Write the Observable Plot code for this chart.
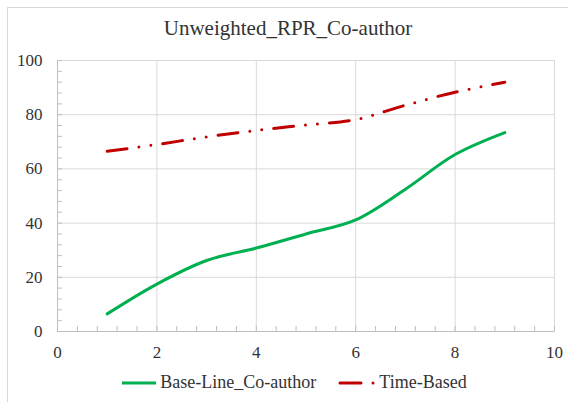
<!DOCTYPE html>
<html>
<head>
<meta charset="utf-8">
<script src="https://cdn.jsdelivr.net/npm/d3@7"></script>
<script src="https://cdn.jsdelivr.net/npm/@observablehq/plot@0.6"></script>
<style>
  html, body { margin: 0; padding: 0; background: #fff; }
  #wrap { position: relative; width: 568px; height: 402px; overflow: hidden; font-family: "Liberation Serif", "Times New Roman", serif; color: #333; }
  #border { position: absolute; left: 7px; top: 7px; width: 700px; height: 600px; border-left: 1px solid #d9d9d9; border-top: 1px solid #d9d9d9; }
  #title { position: absolute; left: 4px; width: 568px; top: 16px; text-align: center; font-size: 21px; }
  #chart { position: absolute; left: 0; top: 0; }
  #legend { position: absolute; top: 372px; left: 10px; width: 568px; display: flex; justify-content: center; align-items: center; font-size: 18px; }
  .item { display: flex; align-items: center; margin: 0 11px; }
  .item svg { margin-right: 3px; }
  #chart svg text { font-family: "Liberation Serif", "Times New Roman", serif; }
</style>
</head>
<body>
<div id="wrap">
  <div id="border"></div>
  <div id="chart"></div>
  <div id="title">Unweighted_RPR_Co-author</div>
  <div id="legend"></div>
</div>
<script>
const xValues = [1, 2, 3, 4, 5, 6, 7, 8, 9];
const baseLine = [6.5, 17.5, 26.2, 30.8, 36, 41.2, 52.5, 65.3, 73.4];
const timeBased = [66.5, 69, 71.8, 74.2, 76.2, 78.2, 83.5, 88.3, 92];
const seriesNames = ["Base-Line_Co-author", "Time-Based"];
const xTicks = [0, 2, 4, 6, 8, 10];
const yTicks = [0, 20, 40, 60, 80, 100];

const green = "#00b050";
const red = "#c00000";

const baseData = xValues.map((x, i) => ({x, y: baseLine[i]}));
const timeData = xValues.map((x, i) => ({x, y: timeBased[i]}));

const chart = Plot.plot({
  width: 568,
  height: 402,
  marginLeft: 57,
  marginRight: 14,
  marginTop: 60,
  marginBottom: 71,
  style: {fontFamily: "'Liberation Serif', 'Times New Roman', serif", fontSize: "17px", color: "#333", background: "transparent"},
  x: {domain: [0, 10], label: null},
  y: {domain: [0, 100], label: null},
  marks: [
    Plot.gridX(xTicks, {stroke: "#d9d9d9", strokeOpacity: 1}),
    Plot.gridY(yTicks, {stroke: "#d9d9d9", strokeOpacity: 1}),
    Plot.frame({stroke: "#d9d9d9"}),
    Plot.axisY(d3.range(0, 101, 4), {tickSize: -5, text: null, label: null, stroke: "#bfbfbf"}),
    Plot.axisX(d3.range(0, 10.01, 0.4).map(v => +v.toFixed(1)), {tickSize: -5, text: null, label: null, stroke: "#bfbfbf"}),
    Plot.ruleY([0], {stroke: "#bfbfbf"}),
    Plot.ruleX([0], {stroke: "#bfbfbf"}),
    Plot.axisY(yTicks, {tickSize: 0, tickPadding: 15, label: null, fill: "#333"}),
    Plot.axisX(xTicks, {tickSize: 0, tickPadding: 14, label: null, fill: "#333"}),
    Plot.line(baseData, {x: "x", y: "y", stroke: green, strokeWidth: 3, curve: "catmull-rom"}),
    Plot.line(timeData, {x: "x", y: "y", stroke: red, strokeWidth: 3, curve: "catmull-rom", strokeDasharray: "20 12 0 12 0 12", strokeLinecap: "round"})
  ]
});
document.getElementById("chart").appendChild(chart);

const legend = document.getElementById("legend");
const swatches = [
  `<svg width="36" height="10"><line x1="1" y1="5" x2="35" y2="5" stroke="${green}" stroke-width="3"/></svg>`,
  `<svg width="38" height="10"><line x1="2" y1="5" x2="36" y2="5" stroke="${red}" stroke-width="3" stroke-linecap="round" stroke-dasharray="21 12 0 100"/></svg>`
];
seriesNames.forEach((name, i) => {
  const d = document.createElement("div");
  d.className = "item";
  d.innerHTML = swatches[i] + `<span>${name}</span>`;
  legend.appendChild(d);
});
</script>
</body>
</html>
